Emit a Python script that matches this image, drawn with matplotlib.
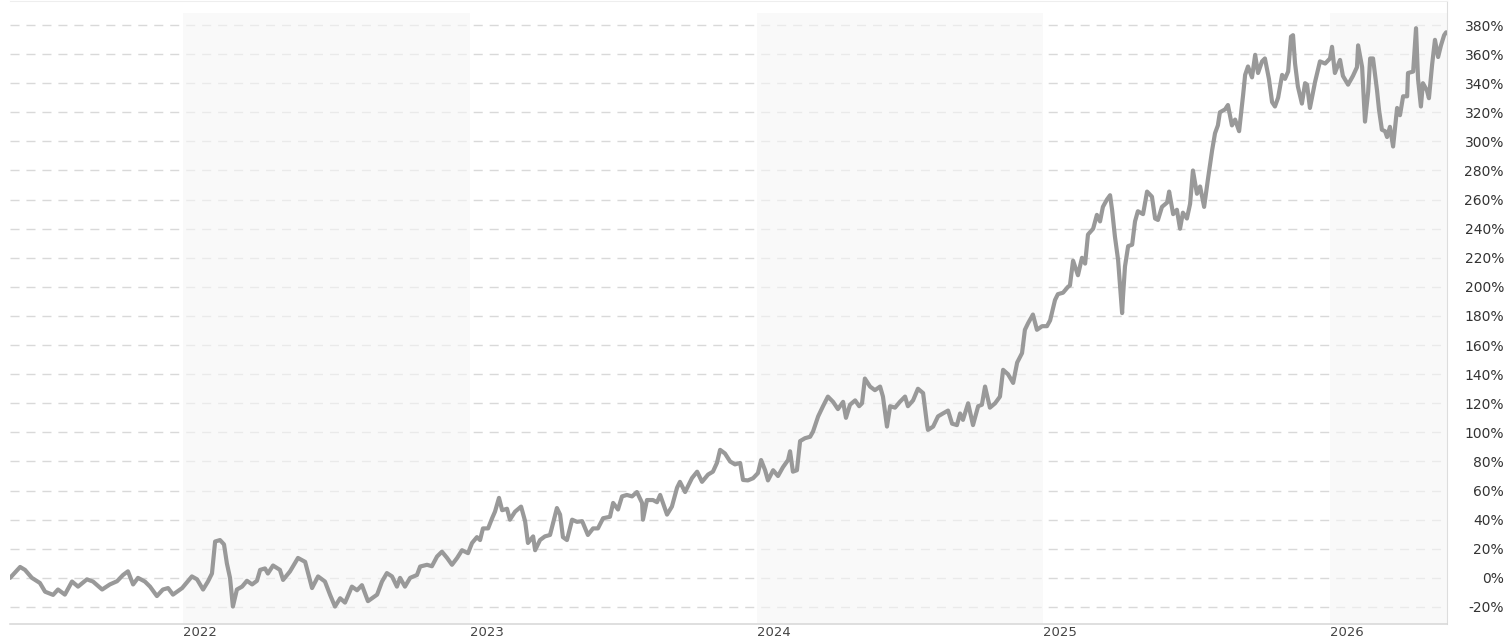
import numpy as np
import matplotlib.pyplot as plt

# performance in %; time given as fraction of each year
t_2021 = [0.397, 0.432, 0.449, 0.473, 0.501, 0.519, 0.547, 0.564, 0.588, 0.613, 0.634, 0.665, 0.686,
          0.718, 0.745, 0.770, 0.791, 0.808, 0.826, 0.843, 0.867, 0.885, 0.909, 0.930, 0.948, 0.965, 0.997]
v_2021 = [0, 7.5, 5.5, 0, -3.5, -9.5, -11.7, -8, -11.5, -2.5, -6, -1, -2.5,
          -8, -4.5, -2.3, 2, 4.5, -4.5, 0, -2.5, -6, -12.5, -8, -7, -11.5, -7]

t_2022 = [0.031, 0.049, 0.070, 0.087, 0.101, 0.112, 0.129, 0.143, 0.153, 0.164, 0.174, 0.188, 0.206, 0.223,
          0.241, 0.258, 0.269, 0.286, 0.296, 0.314, 0.338, 0.349, 0.373, 0.401, 0.426, 0.450, 0.471, 0.495,
          0.513, 0.530, 0.548, 0.565, 0.589, 0.607, 0.624, 0.645, 0.677, 0.694, 0.711, 0.729, 0.746, 0.757,
          0.774, 0.792, 0.816, 0.827, 0.851, 0.868, 0.886, 0.903, 0.921, 0.938, 0.956, 0.973, 0.994]
v_2022 = [1, -1, -8, -2.5, 3, 25, 26, 23, 10, 0, -19.7, -8, -6, -2,
          -4.5, -2, 5.5, 6.5, 3, 8.5, 5.5, -1.4, 4.4, 13.7, 11, -7, 1, -2.5,
          -11.7, -19.7, -14, -17, -6, -8.5, -5, -16, -11.5, -2.5, 3.3, 1, -6, 0,
          -6, 0, 2, 7.8, 9, 8, 14.7, 18, 13.7, 9, 13.7, 19, 17]

t_2023 = [0.008, 0.025, 0.036, 0.046, 0.064, 0.078, 0.088, 0.102, 0.113, 0.130, 0.140, 0.158, 0.179, 0.193,
          0.203, 0.221, 0.228, 0.245, 0.262, 0.280, 0.304, 0.315, 0.325, 0.339, 0.357, 0.374, 0.392, 0.412,
          0.430, 0.447, 0.465, 0.489, 0.500, 0.517, 0.531, 0.548, 0.566, 0.583, 0.601, 0.604, 0.618, 0.639,
          0.653, 0.664, 0.688, 0.705, 0.723, 0.733, 0.751, 0.775, 0.793, 0.810, 0.831, 0.848, 0.862, 0.873,
          0.890, 0.908, 0.925, 0.943, 0.953, 0.970, 0.988]
v_2023 = [24, 28, 26, 34, 34, 41, 45.5, 55, 46.5, 47.5, 40, 45.5, 49, 39,
          24, 28.5, 19, 26, 28.5, 29.5, 48, 43.5, 28, 26, 40, 38.5, 39, 29.5,
          34, 34, 41, 42, 51.5, 47, 56, 57, 56, 59, 51.5, 40, 53.5, 53.5,
          52, 57, 43.5, 49, 62, 66, 59, 68.6, 73, 66, 71, 73, 79, 88,
          85.5, 80, 78, 79, 67.3, 67, 68.5]

t_2024 = [0.005, 0.016, 0.030, 0.040, 0.058, 0.075, 0.092, 0.110, 0.117, 0.127, 0.141, 0.152, 0.169, 0.187,
          0.197, 0.215, 0.232, 0.249, 0.267, 0.284, 0.302, 0.312, 0.326, 0.344, 0.358, 0.368, 0.378, 0.396,
          0.413, 0.431, 0.441, 0.455, 0.466, 0.483, 0.500, 0.518, 0.528, 0.546, 0.563, 0.581, 0.595, 0.598,
          0.616, 0.633, 0.650, 0.668, 0.682, 0.699, 0.710, 0.720, 0.738, 0.755, 0.773, 0.786, 0.797, 0.814,
          0.832, 0.849, 0.860, 0.877, 0.895, 0.909, 0.926, 0.936, 0.947, 0.964, 0.978, 0.996]
v_2024 = [72, 81, 74, 67, 74, 70, 76, 81, 87, 73, 74, 94, 96, 97,
          100.5, 111, 118, 124.6, 121, 116, 121, 110, 119, 122, 118, 120, 137, 131.5,
          129, 131.5, 124.6, 104, 118, 117, 121, 124.6, 118, 122, 130, 127, 105, 101.7,
          104, 111, 113, 115, 106, 105, 113, 108.6, 120, 105, 118, 119, 131.5, 117,
          120, 124.6, 143, 140, 134, 148, 154.5, 170.5, 175, 181, 170.5, 173]

t_2025 = [0.013, 0.024, 0.041, 0.051, 0.069, 0.086, 0.093, 0.104, 0.121, 0.135, 0.146, 0.156, 0.174, 0.187,
          0.198, 0.208, 0.222, 0.233, 0.240, 0.250, 0.261, 0.275, 0.278, 0.285, 0.296, 0.310, 0.320, 0.330,
          0.348, 0.362, 0.379, 0.390, 0.400, 0.414, 0.432, 0.439, 0.453, 0.466, 0.477, 0.487, 0.501, 0.512,
          0.522, 0.536, 0.547, 0.561, 0.575, 0.589, 0.599, 0.609, 0.616, 0.634, 0.644, 0.658, 0.669, 0.683,
          0.697, 0.704, 0.714, 0.728, 0.739, 0.749, 0.763, 0.773, 0.787, 0.798, 0.808, 0.819, 0.833, 0.843,
          0.854, 0.864, 0.871, 0.878, 0.888, 0.902, 0.913, 0.920, 0.930, 0.948, 0.965, 0.983]
v_2025 = [173, 177, 191, 195, 196, 200, 201, 218, 208, 220, 216, 236, 240, 249.5,
          245, 255, 260, 263, 253, 234.5, 218.5, 182, 193, 214, 228, 229, 245, 252,
          250, 265.5, 262, 247, 246, 255, 258, 265.5, 250, 253, 240, 251, 247, 257,
          280, 264, 269, 255, 275, 294, 305.6, 311, 320, 322, 325, 311, 315, 307,
          332, 345.7, 351.5, 344, 359.5, 347, 355, 357, 343, 327, 324, 330, 345.7, 343,
          348, 372, 373, 353.7, 337.7, 326, 340, 339, 323, 341, 355, 353.5]

t_2026 = [0.000, 0.007, 0.017, 0.035, 0.045, 0.063, 0.080, 0.094, 0.098, 0.112, 0.122, 0.133, 0.140,
          0.150, 0.164, 0.171, 0.181, 0.192, 0.199, 0.209, 0.220, 0.234, 0.244, 0.255, 0.269, 0.272,
          0.290, 0.300, 0.307, 0.317, 0.324, 0.338, 0.345, 0.356, 0.366, 0.377, 0.387, 0.398, 0.405]
v_2026 = [357, 365, 347, 356, 345, 339, 345, 351, 366, 351, 313.6, 334, 357,
          357, 335, 321.6, 308, 307, 303, 310, 296.5, 323, 318, 331, 331, 347,
          348, 377.8, 343, 324, 340, 335, 329.7, 352.6, 369.8, 358, 366, 373, 375]

years = [2022, 2023, 2024, 2025, 2026]
shaded_years = [2022, 2024, 2026]
y_ticks = list(range(-20, 381, 20))

parts_t = [t_2021, t_2022, t_2023, t_2024, t_2025, t_2026]
parts_v = [v_2021, v_2022, v_2023, v_2024, v_2025, v_2026]
time = np.concatenate([yr + np.array(t) for yr, t in zip(range(2021, 2027), parts_t)])
perf = np.concatenate([np.array(v, dtype=float) for v in parts_v])

plt.rcParams['lines.scale_dashes'] = False

W, H = 1511, 639
fig = plt.figure(figsize=(W / 100, H / 100), dpi=100)
ax = fig.add_axes([10 / W, (H - 624) / H, (1447 - 10) / W, 623 / H])

x_end = 2026.408
ax.set_xlim(2021.3967, x_end)
ax.set_ylim(-31.7, 396.5)

# alternating year bands, grid still shows faintly through them
for yr in shaded_years:
    ax.axvspan(yr, min(yr + 1, x_end), ymin=0, ymax=0.9807, facecolor='#f6f6f6',
               alpha=0.6, edgecolor='none', zorder=1)

ax.set_axisbelow(True)
ax.grid(axis='y', color='#d9d9d9', linewidth=1.0, linestyle=(0, (6.5, 5)))
ax.grid(axis='x', visible=False)

ax.plot(time, perf, color='#999999', linewidth=3.0, solid_joinstyle='round',
        solid_capstyle='round', zorder=3)

ax.set_yticks(y_ticks)
ax.set_yticklabels([f'{v}%' for v in y_ticks])
ax.yaxis.tick_right()
ax.tick_params(axis='y', length=0, pad=41, labelsize=10, labelcolor='#333333')
for lab in ax.get_yticklabels():
    lab.set_horizontalalignment('right')

ax.set_xticks(years)
ax.set_xticklabels([str(y) for y in years])
ax.tick_params(axis='x', length=0, pad=1.5, labelsize=9.5, labelcolor='#444444')
for lab in ax.get_xticklabels():
    lab.set_horizontalalignment('left')

ax.spines['left'].set_visible(False)
ax.spines['top'].set_color('#eeeeee')
ax.spines['top'].set_linewidth(0.8)
ax.spines['right'].set_color('#dddddd')
ax.spines['right'].set_linewidth(0.8)
ax.spines['bottom'].set_color('#d6d6d6')
ax.spines['bottom'].set_linewidth(1.1)

fig.savefig('out.png', dpi=100)
